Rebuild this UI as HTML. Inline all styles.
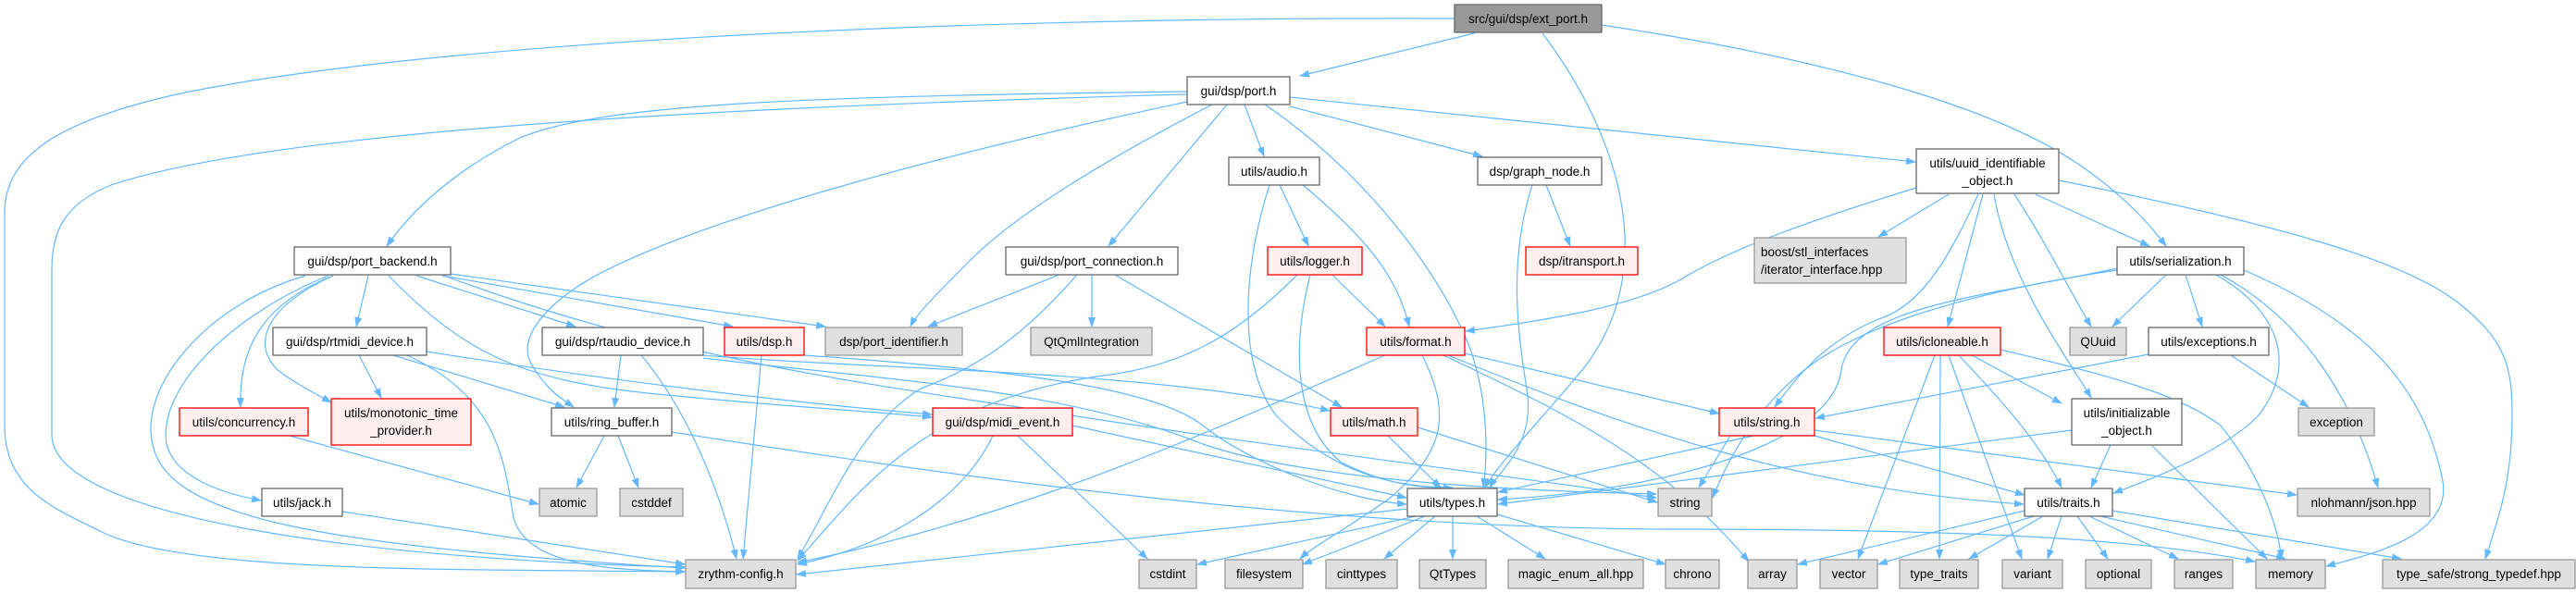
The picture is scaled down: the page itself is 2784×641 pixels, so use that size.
<!DOCTYPE html>
<html><head><meta charset="utf-8"><style>
html,body{margin:0;padding:0;background:#fff;}
svg{display:block;}
text{font-family:"Liberation Sans",sans-serif;font-size:13.5px;fill:#000;}
.w{fill:#fff;stroke:#666;stroke-width:1.3}
.g{fill:#e0e0e0;stroke:#999;stroke-width:1.3}
.r{fill:#fff0f0;stroke:#f00;stroke-width:1.3}
.k{fill:#999;stroke:#666;stroke-width:1.3}
.e path{fill:none;stroke:#63b8ff;stroke-width:1.2;marker-end:url(#a)}
</style></head><body>
<svg width="2784" height="641" viewBox="0 0 2784 641" xmlns="http://www.w3.org/2000/svg">
<defs><marker id="a" markerWidth="11" markerHeight="8" refX="10" refY="4" orient="auto" markerUnits="userSpaceOnUse"><path d="M0,0 L11,4 L0,8 z" fill="#63b8ff"/></marker></defs>
<g class="e">
<!-- ext_port -->
<path d="M1593,36 L1405,82"/>
<path d="M1572,20 C1100,18 500,40 200,100 C60,130 5,170 5,230 L5,460 C5,530 60,550 110,575 C200,620 500,615 740,618"/>
<path d="M1667,36 C1760,160 1790,300 1710,400 C1660,460 1620,500 1605,527"/>
<path d="M1731,27 C1950,60 2150,110 2250,180 C2300,215 2325,245 2341,266"/>
<!-- port.h -->
<path d="M1283,99 C900,104 650,110 560,150 C500,180 450,220 418,266"/>
<path d="M1283,102 C800,115 300,140 120,200 C70,220 56,250 56,290 L56,470 C56,560 400,605 740,613"/>
<path d="M1283,110 C1000,170 750,240 640,300 C580,335 560,370 575,395 C590,420 605,430 620,440"/>
<path d="M1310,113 C1200,170 1100,230 1050,280 C1010,320 990,340 984,353"/>
<path d="M1326,113 L1198,266"/>
<path d="M1345,113 L1366,169"/>
<path d="M1367,113 C1480,190 1560,300 1590,380 C1610,440 1607,500 1603,527"/>
<path d="M1394,115 L1602,169"/>
<path d="M1394,105 L2070,175"/>
<!-- port_backend -->
<path d="M398,298 L385,353"/>
<path d="M450,298 L622,353"/>
<path d="M478,298 L792,353"/>
<path d="M487,296 L892,353"/>
<path d="M360,298 C280,330 258,380 260,440"/>
<path d="M360,298 C290,330 270,370 300,400 C320,415 340,425 358,435"/>
<path d="M355,298 C250,340 170,420 180,480 C190,520 250,535 282,541"/>
<path d="M330,298 C220,330 150,420 165,480 C180,560 350,590 740,614"/>
<path d="M420,298 C500,380 560,410 700,425 C850,440 950,445 1007,451"/>
<path d="M480,298 C700,380 900,410 1100,440 C1350,480 1600,510 1790,538"/>
<!-- rtmidi -->
<path d="M388,384 L412,430"/>
<path d="M425,384 L610,440"/>
<path d="M440,384 C540,430 545,500 555,560 C570,610 650,616 740,618"/>
<path d="M461,380 C650,410 850,435 1007,448"/>
<!-- rtaudio -->
<path d="M671,384 L664,440"/>
<path d="M693,384 C740,440 775,520 796,604"/>
<path d="M760,384 C950,400 1250,400 1437,444"/>
<path d="M760,387 C950,410 1150,420 1300,480 C1400,515 1600,530 1790,534"/>
<!-- dsp.h -->
<path d="M823,384 L803,604"/>
<path d="M869,384 C1100,400 1250,420 1300,460 C1350,500 1450,540 1520,545"/>
<!-- ring_buffer -->
<path d="M653,471 L623,527"/>
<path d="M668,471 L690,527"/>
<path d="M726,467 C1000,510 1400,570 1800,572 C2100,572 2300,580 2437,607"/>
<!-- concurrency, jack -->
<path d="M313,471 L582,545"/>
<path d="M370,553 L740,610"/>
<!-- port_connection -->
<path d="M1145,297 L1003,353"/>
<path d="M1180,297 L1180,353"/>
<path d="M1164,297 C1100,370 1050,400 995,420 C930,460 900,540 862,604"/>
<path d="M1205,297 L1450,440"/>
<!-- audio -->
<path d="M1383,200 L1414,266"/>
<path d="M1408,200 C1480,260 1510,300 1523,353"/>
<path d="M1372,200 C1340,300 1340,400 1380,450 C1440,510 1500,525 1560,527"/>
<!-- logger -->
<path d="M1440,297 L1497,353"/>
<path d="M1402,297 C1330,370 1270,395 1200,405 C1000,430 930,530 862,606"/>
<path d="M1416,297 C1395,380 1400,460 1450,500 C1500,525 1540,528 1570,527"/>
<!-- graph_node -->
<path d="M1656,200 C1630,280 1640,360 1650,420 C1660,480 1620,510 1610,527"/>
<path d="M1671,200 L1697,266"/>
<!-- uuid -->
<path d="M2071,203 C1950,240 1870,270 1820,300 C1770,330 1680,345 1584,358"/>
<path d="M2106,210 L2030,256"/>
<path d="M2138,210 C2110,270 2080,330 2030,345 C1970,370 1940,410 1918,440"/>
<path d="M2143,210 L2105,353"/>
<path d="M2155,210 C2170,300 2230,380 2260,430"/>
<path d="M2177,210 C2210,260 2240,320 2260,353"/>
<path d="M2200,210 L2323,266"/>
<path d="M2225,195 C2450,240 2600,280 2660,330 C2710,370 2715,400 2715,450 C2715,520 2700,560 2686,604"/>
<!-- serialization -->
<path d="M2341,297 L2283,353"/>
<path d="M2362,297 L2380,353"/>
<path d="M2395,297 C2470,340 2480,400 2440,450 C2400,490 2320,520 2284,533"/>
<path d="M2400,297 C2480,340 2540,420 2570,527"/>
<path d="M2425,292 C2560,350 2620,420 2640,520 C2650,580 2560,600 2514,612"/>
<path d="M2288,290 C2150,320 2000,330 1990,400 C1980,480 1800,530 1619,540"/>
<path d="M2288,292 C2100,320 2000,360 1950,400 C1900,440 1870,490 1851,538"/>
<!-- icloneable -->
<path d="M2091,384 L2008,604"/>
<path d="M2097,384 L2096,604"/>
<path d="M2106,384 L2185,604"/>
<path d="M2117,384 C2150,420 2200,470 2228,527"/>
<path d="M2131,384 L2228,436"/>
<path d="M2162,378 C2300,410 2360,430 2400,460 C2440,510 2460,560 2466,604"/>
<!-- exceptions -->
<path d="M2322,383 L1962,452"/>
<path d="M2411,384 L2495,440"/>
<!-- string.h -->
<path d="M1895,471 L1619,532"/>
<path d="M1870,471 L1836,527"/>
<path d="M1961,471 L2188,535"/>
<path d="M1961,465 L2482,535"/>
<!-- format -->
<path d="M1583,382 L1858,447"/>
<path d="M1497,384 C1300,470 1100,560 862,608"/>
<path d="M1537,384 C1570,450 1560,490 1500,540 C1450,575 1420,590 1405,604"/>
<path d="M1565,384 C1750,460 1950,530 2187,545"/>
<path d="M1560,384 C1700,450 1800,500 1890,607"/>
<!-- math -->
<path d="M1500,471 L1557,527"/>
<path d="M1532,462 L1791,543"/>
<!-- midi_event -->
<path d="M1159,460 L1520,538"/>
<path d="M1100,471 L1240,604"/>
<path d="M1073,471 C1040,540 960,590 862,610"/>
<!-- initializable -->
<path d="M2281,481 L2260,527"/>
<path d="M2325,481 L2450,604"/>
<path d="M2239,465 L1619,545"/>
<!-- types -->
<path d="M1521,550 L861,621"/>
<path d="M1530,558 L1294,610"/>
<path d="M1540,558 L1408,610"/>
<path d="M1551,558 L1496,604"/>
<path d="M1570,558 L1570,604"/>
<path d="M1596,558 L1670,604"/>
<path d="M1618,556 L1800,610"/>
<!-- traits -->
<path d="M2188,552 L1943,610"/>
<path d="M2198,558 L2030,610"/>
<path d="M2208,558 L2128,604"/>
<path d="M2228,558 L2213,604"/>
<path d="M2245,558 L2278,604"/>
<path d="M2258,558 L2354,604"/>
<path d="M2270,558 L2470,604"/>
<path d="M2283,552 L2595,604"/>
</g>
<g>
<rect class="k" x="1572" y="5" width="159" height="30"/><text x="1651.5" y="25" text-anchor="middle">src/gui/dsp/ext_port.h</text>
<rect class="w" x="1283" y="83" width="111" height="30"/><text x="1338.5" y="103" text-anchor="middle">gui/dsp/port.h</text>
<rect class="w" x="1328" y="170" width="98" height="30"/><text x="1377" y="190" text-anchor="middle">utils/audio.h</text>
<rect class="w" x="1597" y="170" width="134" height="30"/><text x="1664" y="190" text-anchor="middle">dsp/graph_node.h</text>
<rect class="w" x="2071" y="161" width="154" height="48"/><text x="2148" y="181" text-anchor="middle">utils/uuid_identifiable</text><text x="2148" y="200" text-anchor="middle">_object.h</text>
<rect class="w" x="318" y="267" width="169" height="30"/><text x="402.5" y="287" text-anchor="middle">gui/dsp/port_backend.h</text>
<rect class="w" x="1087" y="267" width="186" height="30"/><text x="1180" y="287" text-anchor="middle">gui/dsp/port_connection.h</text>
<rect class="r" x="1370" y="267" width="102" height="30"/><text x="1421" y="287" text-anchor="middle">utils/logger.h</text>
<rect class="r" x="1649" y="267" width="121" height="30"/><text x="1709.5" y="287" text-anchor="middle">dsp/itransport.h</text>
<rect class="g" x="1896" y="257" width="164" height="49"/><text x="1903" y="277">boost/stl_interfaces</text><text x="1903" y="296">/iterator_interface.hpp</text>
<rect class="w" x="2288" y="267" width="137" height="30"/><text x="2356.5" y="287" text-anchor="middle">utils/serialization.h</text>
<rect class="w" x="295" y="354" width="166" height="30"/><text x="378" y="374" text-anchor="middle">gui/dsp/rtmidi_device.h</text>
<rect class="w" x="586" y="354" width="174" height="30"/><text x="673" y="374" text-anchor="middle">gui/dsp/rtaudio_device.h</text>
<rect class="r" x="783" y="354" width="86" height="30"/><text x="826" y="374" text-anchor="middle">utils/dsp.h</text>
<rect class="g" x="892" y="354" width="148" height="30"/><text x="966" y="374" text-anchor="middle">dsp/port_identifier.h</text>
<rect class="g" x="1114" y="354" width="131" height="30"/><text x="1179.5" y="374" text-anchor="middle">QtQmlIntegration</text>
<rect class="r" x="1477" y="354" width="106" height="30"/><text x="1530" y="374" text-anchor="middle">utils/format.h</text>
<rect class="r" x="2036" y="354" width="126" height="30"/><text x="2099" y="374" text-anchor="middle">utils/icloneable.h</text>
<rect class="g" x="2237" y="354" width="61" height="30"/><text x="2267.5" y="374" text-anchor="middle">QUuid</text>
<rect class="w" x="2322" y="354" width="130" height="30"/><text x="2387" y="374" text-anchor="middle">utils/exceptions.h</text>
<rect class="r" x="194" y="441" width="139" height="30"/><text x="263.5" y="461" text-anchor="middle">utils/concurrency.h</text>
<rect class="r" x="358" y="431" width="151" height="50"/><text x="433.5" y="451" text-anchor="middle">utils/monotonic_time</text><text x="433.5" y="470" text-anchor="middle">_provider.h</text>
<rect class="w" x="596" y="441" width="130" height="30"/><text x="661" y="461" text-anchor="middle">utils/ring_buffer.h</text>
<rect class="r" x="1008" y="441" width="151" height="30"/><text x="1083.5" y="461" text-anchor="middle">gui/dsp/midi_event.h</text>
<rect class="r" x="1438" y="441" width="94" height="30"/><text x="1485" y="461" text-anchor="middle">utils/math.h</text>
<rect class="r" x="1858" y="441" width="103" height="30"/><text x="1909.5" y="461" text-anchor="middle">utils/string.h</text>
<rect class="w" x="2239" y="431" width="119" height="50"/><text x="2298.5" y="451" text-anchor="middle">utils/initializable</text><text x="2298.5" y="470" text-anchor="middle">_object.h</text>
<rect class="g" x="2484" y="441" width="82" height="30"/><text x="2525" y="461" text-anchor="middle">exception</text>
<rect class="w" x="283" y="528" width="87" height="30"/><text x="326.5" y="548" text-anchor="middle">utils/jack.h</text>
<rect class="g" x="583" y="528" width="62" height="30"/><text x="614" y="548" text-anchor="middle">atomic</text>
<rect class="g" x="670" y="528" width="68" height="30"/><text x="704" y="548" text-anchor="middle">cstddef</text>
<rect class="w" x="1521" y="528" width="97" height="30"/><text x="1569.5" y="548" text-anchor="middle">utils/types.h</text>
<rect class="g" x="1792" y="528" width="58" height="30"/><text x="1821" y="548" text-anchor="middle">string</text>
<rect class="w" x="2188" y="528" width="95" height="30"/><text x="2235.5" y="548" text-anchor="middle">utils/traits.h</text>
<rect class="g" x="2483" y="528" width="143" height="30"/><text x="2554.5" y="548" text-anchor="middle">nlohmann/json.hpp</text>
<rect class="g" x="741" y="605" width="119" height="31"/><text x="800.5" y="625" text-anchor="middle">zrythm-config.h</text>
<rect class="g" x="1231" y="605" width="62" height="31"/><text x="1262" y="625" text-anchor="middle">cstdint</text>
<rect class="g" x="1324" y="605" width="84" height="31"/><text x="1366" y="625" text-anchor="middle">filesystem</text>
<rect class="g" x="1433" y="605" width="77" height="31"/><text x="1471.5" y="625" text-anchor="middle">cinttypes</text>
<rect class="g" x="1534" y="605" width="72" height="31"/><text x="1570" y="625" text-anchor="middle">QtTypes</text>
<rect class="g" x="1630" y="605" width="146" height="31"/><text x="1703" y="625" text-anchor="middle">magic_enum_all.hpp</text>
<rect class="g" x="1800" y="605" width="58" height="31"/><text x="1829" y="625" text-anchor="middle">chrono</text>
<rect class="g" x="1889" y="605" width="53" height="31"/><text x="1915.5" y="625" text-anchor="middle">array</text>
<rect class="g" x="1967" y="605" width="62" height="31"/><text x="1998" y="625" text-anchor="middle">vector</text>
<rect class="g" x="2053" y="605" width="85" height="31"/><text x="2095.5" y="625" text-anchor="middle">type_traits</text>
<rect class="g" x="2164" y="605" width="65" height="31"/><text x="2196.5" y="625" text-anchor="middle">variant</text>
<rect class="g" x="2254" y="605" width="71" height="31"/><text x="2289.5" y="625" text-anchor="middle">optional</text>
<rect class="g" x="2350" y="605" width="63" height="31"/><text x="2381.5" y="625" text-anchor="middle">ranges</text>
<rect class="g" x="2438" y="605" width="75" height="31"/><text x="2475.5" y="625" text-anchor="middle">memory</text>
<rect class="g" x="2575" y="605" width="208" height="31"/><text x="2679" y="625" text-anchor="middle">type_safe/strong_typedef.hpp</text>
</g>
</svg>
</body></html>
